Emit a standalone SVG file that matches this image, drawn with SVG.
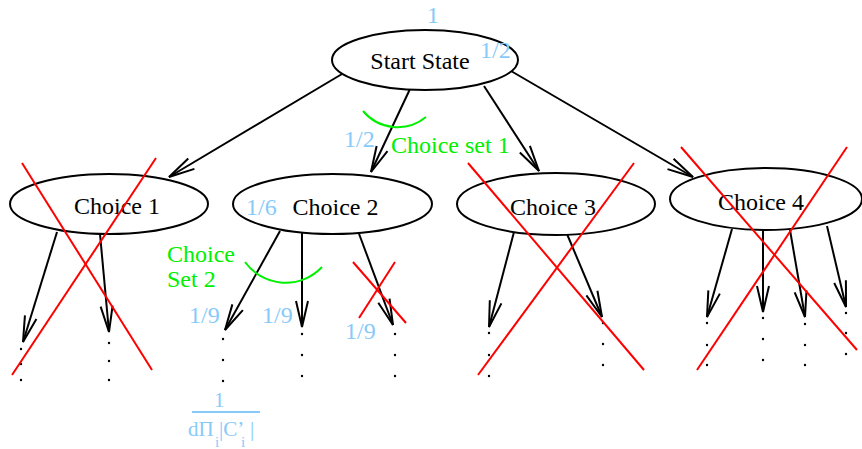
<svg xmlns="http://www.w3.org/2000/svg" width="862" height="449" viewBox="0 0 862 449">
  <style>
    .node { fill: #ffffff; stroke: #000000; stroke-width: 2; }
    .lbl { font-family: "Liberation Serif", "Times New Roman", serif; font-size: 24px; fill: #000000; text-anchor: middle; }
    .prob { font-family: "Liberation Serif", "Times New Roman", serif; font-size: 24px; fill: #87cafa; }
    .frac { font-family: "Liberation Serif", "Times New Roman", serif; font-size: 21px; fill: #87cafa; }
    .sub { font-family: "Liberation Serif", "Times New Roman", serif; font-size: 15px; fill: #87cafa; }
    .set { font-family: "Liberation Serif", "Times New Roman", serif; font-size: 24px; fill: #00f000; }
    .edge { fill: none; stroke: #000000; stroke-width: 2; marker-end: url(#ah); }
    .arc { fill: none; stroke: #00f000; stroke-width: 2; }
    .cross { stroke: #ff0000; stroke-width: 2; }
    .dot { fill: #000000; }
  </style>
  <defs>
    <marker id="ah" markerUnits="userSpaceOnUse" orient="auto" overflow="visible" refX="0" refY="0" markerWidth="30" markerHeight="14">
      <path d="M -26 -6 L 0 0 L -26 6" fill="none" stroke="#000000" stroke-width="2"/>
    </marker>
  </defs>

  <rect width="862" height="449" fill="#ffffff"/>

  <!-- connectors -->
  <g id="connectors">
    <line class="edge" x1="342" y1="74" x2="169" y2="177"/>
    <line class="edge" x1="410" y1="89" x2="371" y2="172"/>
    <line class="edge" x1="484" y1="86" x2="539" y2="171"/>
    <line class="edge" x1="511" y1="71" x2="693" y2="177"/>

    <line class="edge" x1="57" y1="232" x2="23" y2="342"/>
    <line class="edge" x1="100" y1="234" x2="109" y2="332"/>

    <line class="edge" x1="280" y1="231" x2="225" y2="330"/>
    <line class="edge" x1="302" y1="232" x2="302" y2="327"/>
    <line class="edge" x1="358" y1="231" x2="393" y2="325"/>

    <line class="edge" x1="514" y1="232" x2="489" y2="327"/>
    <line class="edge" x1="567" y1="234" x2="602" y2="317"/>

    <line class="edge" x1="732" y1="229" x2="707" y2="317"/>
    <line class="edge" x1="763" y1="230" x2="763" y2="312"/>
    <line class="edge" x1="790" y1="230" x2="805" y2="317"/>
    <line class="edge" x1="827" y1="226" x2="846" y2="307"/>
  </g>

  <!-- nodes -->
  <g id="start">
    <ellipse class="node" cx="425" cy="60" rx="93" ry="30"/>
    <text class="lbl" x="420" y="69">Start State</text>
  </g>
  <g id="choice1">
    <ellipse class="node" cx="109" cy="204" rx="99" ry="30"/>
    <text class="lbl" x="117" y="214">Choice 1</text>
  </g>
  <g id="choice2">
    <ellipse class="node" cx="332.5" cy="204" rx="99.5" ry="30"/>
    <text class="lbl" x="335.5" y="215">Choice 2</text>
  </g>
  <g id="choice3">
    <ellipse class="node" cx="556" cy="204" rx="99" ry="31"/>
    <text class="lbl" x="553" y="215">Choice 3</text>
  </g>
  <g id="choice4">
    <ellipse class="node" cx="766" cy="199" rx="96" ry="31"/>
    <text class="lbl" x="761" y="210">Choice 4</text>
  </g>

  <!-- continuation dots below each branch -->
  <g id="continuations">
    <circle class="dot" cx="21" cy="349" r="1.2"/>
    <circle class="dot" cx="21" cy="364" r="1.2"/>
    <circle class="dot" cx="21" cy="380" r="1.2"/>
    <circle class="dot" cx="109" cy="343" r="1.2"/>
    <circle class="dot" cx="109" cy="361" r="1.2"/>
    <circle class="dot" cx="109" cy="380" r="1.2"/>

    <circle class="dot" cx="223" cy="339" r="1.2"/>
    <circle class="dot" cx="223" cy="360" r="1.2"/>
    <circle class="dot" cx="223" cy="381" r="1.2"/>
    <circle class="dot" cx="302" cy="334" r="1.2"/>
    <circle class="dot" cx="302" cy="355" r="1.2"/>
    <circle class="dot" cx="302" cy="376" r="1.2"/>
    <circle class="dot" cx="395" cy="334" r="1.2"/>
    <circle class="dot" cx="395" cy="355" r="1.2"/>
    <circle class="dot" cx="395" cy="376" r="1.2"/>

    <circle class="dot" cx="489" cy="333" r="1.2"/>
    <circle class="dot" cx="489" cy="355" r="1.2"/>
    <circle class="dot" cx="489" cy="376" r="1.2"/>
    <circle class="dot" cx="603" cy="323" r="1.2"/>
    <circle class="dot" cx="603" cy="344" r="1.2"/>
    <circle class="dot" cx="603" cy="365" r="1.2"/>

    <circle class="dot" cx="707" cy="323" r="1.2"/>
    <circle class="dot" cx="707" cy="345" r="1.2"/>
    <circle class="dot" cx="707" cy="365" r="1.2"/>
    <circle class="dot" cx="763" cy="318" r="1.2"/>
    <circle class="dot" cx="763" cy="339" r="1.2"/>
    <circle class="dot" cx="763" cy="360" r="1.2"/>
    <circle class="dot" cx="805" cy="324" r="1.2"/>
    <circle class="dot" cx="805" cy="345" r="1.2"/>
    <circle class="dot" cx="805" cy="365" r="1.2"/>
    <circle class="dot" cx="846" cy="313" r="1.2"/>
    <circle class="dot" cx="846" cy="333" r="1.2"/>
    <circle class="dot" cx="846" cy="354" r="1.2"/>
  </g>

  <!-- choice-set arcs and labels -->
  <g id="choice-sets">
    <path class="arc" d="M 363 111 A 45 45 0 0 0 426 117"/>
    <text class="set" x="391" y="153">Choice set 1</text>
    <path class="arc" d="M 245 262 A 50 50 0 0 0 322 267"/>
    <text class="set" x="167" y="262">Choice</text>
    <text class="set" x="167" y="287">Set 2</text>
  </g>

  <!-- probabilities -->
  <g id="probabilities">
    <text class="prob" x="427" y="23">1</text>
    <text class="prob" x="480" y="58">1/2</text>
    <text class="prob" x="344" y="147">1/2</text>
    <text class="prob" x="246" y="215">1/6</text>
    <text class="prob" x="189" y="323">1/9</text>
    <text class="prob" x="262" y="323">1/9</text>
    <text class="prob" x="345" y="339">1/9</text>
    <text class="frac" x="214" y="407">1</text>
    <line x1="192" y1="412" x2="260" y2="412" stroke="#87cafa" stroke-width="2"/>
    <text class="frac" x="188" y="436">dΠ</text>
    <text class="sub" x="215" y="447">i</text>
    <text class="frac" x="219" y="436">|C’</text>
    <text class="sub" x="241" y="447">i</text>
    <text class="frac" x="250" y="436">|</text>
  </g>

  <!-- pruned branches -->
  <g id="crosses">
    <line class="cross" x1="22" y1="163" x2="152" y2="370"/>
    <line class="cross" x1="156" y1="158" x2="12" y2="375"/>
    <line class="cross" x1="353" y1="262" x2="406" y2="323"/>
    <line class="cross" x1="395" y1="262" x2="359" y2="318"/>
    <line class="cross" x1="468" y1="163" x2="644" y2="370"/>
    <line class="cross" x1="634" y1="163" x2="478" y2="375"/>
    <line class="cross" x1="681" y1="147" x2="857" y2="350"/>
    <line class="cross" x1="847" y1="147" x2="697" y2="370"/>
  </g>
</svg>
